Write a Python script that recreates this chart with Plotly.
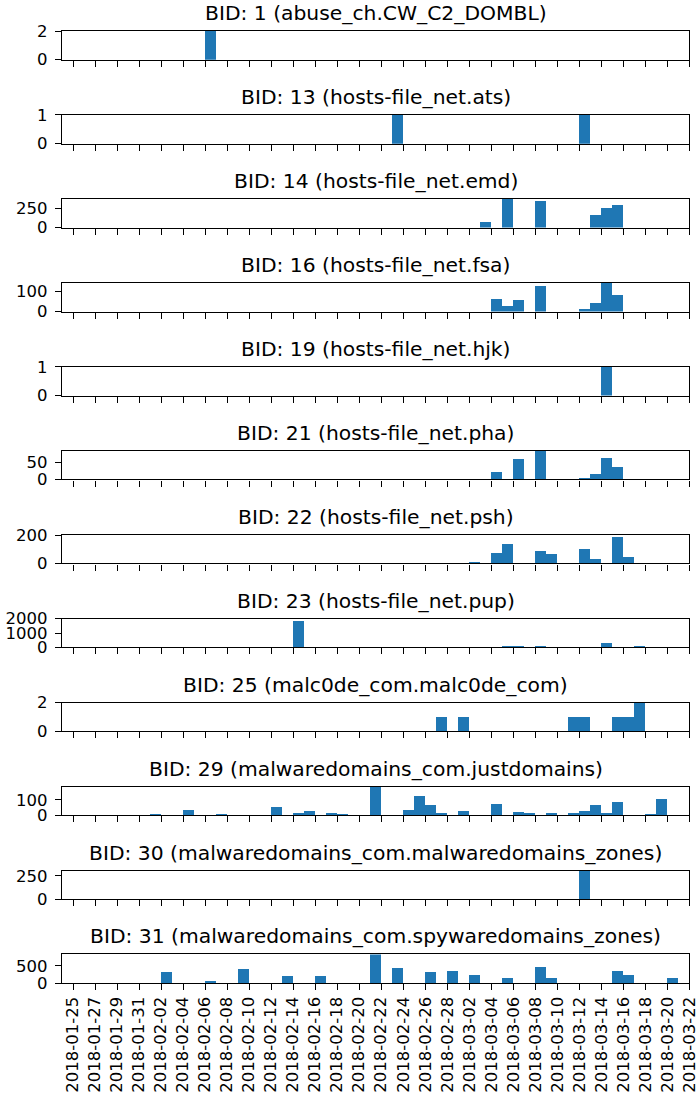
import pandas as pd
import plotly.graph_objects as go
from plotly.subplots import make_subplots

titles = [
    "BID: 1 (abuse_ch.CW_C2_DOMBL)",
    "BID: 13 (hosts-file_net.ats)",
    "BID: 14 (hosts-file_net.emd)",
    "BID: 16 (hosts-file_net.fsa)",
    "BID: 19 (hosts-file_net.hjk)",
    "BID: 21 (hosts-file_net.pha)",
    "BID: 22 (hosts-file_net.psh)",
    "BID: 23 (hosts-file_net.pup)",
    "BID: 25 (malc0de_com.malc0de_com)",
    "BID: 29 (malwaredomains_com.justdomains)",
    "BID: 30 (malwaredomains_com.malwaredomains_zones)",
    "BID: 31 (malwaredomains_com.spywaredomains_zones)",
]

bid1_dates = ["2018-02-06"]
bid1_vals = [2]
bid13_dates = ["2018-02-23", "2018-03-12"]
bid13_vals = [1, 1]
bid14_dates = ["2018-03-03", "2018-03-05", "2018-03-08", "2018-03-13", "2018-03-14", "2018-03-15"]
bid14_vals = [76, 379, 357, 169, 263, 303]
bid16_dates = ["2018-03-04", "2018-03-05", "2018-03-06", "2018-03-08", "2018-03-12", "2018-03-13", "2018-03-14", "2018-03-15"]
bid16_vals = [63, 27, 58, 129, 12, 42, 144, 83]
bid19_dates = ["2018-03-14"]
bid19_vals = [1]
bid21_dates = ["2018-03-04", "2018-03-06", "2018-03-08", "2018-03-12", "2018-03-13", "2018-03-14", "2018-03-15"]
bid21_vals = [24, 60, 83, 6, 18, 63, 36]
bid22_dates = ["2018-03-02", "2018-03-04", "2018-03-05", "2018-03-08", "2018-03-09", "2018-03-12", "2018-03-13", "2018-03-15", "2018-03-16", "2018-03-20"]
bid22_vals = [12, 78, 144, 93, 71, 107, 34, 196, 49, 5]
bid23_dates = ["2018-02-14", "2018-03-05", "2018-03-06", "2018-03-08", "2018-03-14", "2018-03-17"]
bid23_vals = [1880, 70, 70, 141, 353, 141]
bid25_dates = ["2018-02-27", "2018-03-01", "2018-03-11", "2018-03-12", "2018-03-15", "2018-03-16", "2018-03-17"]
bid25_vals = [1, 1, 1, 1, 1, 1, 2]
bid29_dates = ["2018-01-30", "2018-02-01", "2018-02-04", "2018-02-07", "2018-02-12", "2018-02-14", "2018-02-15",
               "2018-02-17", "2018-02-18", "2018-02-21", "2018-02-23", "2018-02-24", "2018-02-25", "2018-02-26",
               "2018-02-27", "2018-03-01", "2018-03-04", "2018-03-05", "2018-03-06", "2018-03-07", "2018-03-09",
               "2018-03-10", "2018-03-11", "2018-03-12", "2018-03-13", "2018-03-14", "2018-03-15", "2018-03-16",
               "2018-03-18", "2018-03-19"]
bid29_vals = [4, 11, 38, 11, 58, 18, 31, 18, 11, 187, 3, 36, 131, 71, 18, 31, 78, 3, 22, 16, 16, 3, 16, 29, 71,
              16, 89, 3, 11, 109]
bid30_dates = ["2018-03-12"]
bid30_vals = [307]
bid31_dates = ["2018-02-02", "2018-02-06", "2018-02-09", "2018-02-13", "2018-02-16", "2018-02-21", "2018-02-23",
               "2018-02-26", "2018-02-28", "2018-03-02", "2018-03-05", "2018-03-08", "2018-03-09", "2018-03-15",
               "2018-03-16", "2018-03-20"]
bid31_vals = [308, 48, 394, 202, 202, 827, 428, 311, 341, 224, 136, 457, 136, 341, 224, 136]

all_dates = [bid1_dates, bid13_dates, bid14_dates, bid16_dates, bid19_dates, bid21_dates, bid22_dates,
             bid23_dates, bid25_dates, bid29_dates, bid30_dates, bid31_dates]
all_vals = [bid1_vals, bid13_vals, bid14_vals, bid16_vals, bid19_vals, bid21_vals, bid22_vals,
            bid23_vals, bid25_vals, bid29_vals, bid30_vals, bid31_vals]

y_tops = [2, 1, 379, 144, 1, 84, 207, 2000, 2, 187, 307, 827]
y_ticks = [[0, 2], [0, 1], [0, 250], [0, 100], [0, 1], [0, 50], [0, 200], [0, 1000, 2000], [0, 2], [0, 100],
           [0, 250], [0, 500]]

x_start = pd.Timestamp("2018-01-24")
x_end = pd.Timestamp("2018-03-22") + pd.Timedelta(minutes=2)
x_tick_dates = pd.date_range("2018-01-25", "2018-03-22", freq="2D")

W, H = 696, 1095
AX_L, AX_R = 62, 689.3
AX_TOP0, AX_H, AX_STEP = 31, 28.7, 83.95
FONT = "DejaVu Sans"
BAR_COLOR = "#1f77b4"

n = len(titles)
fig = make_subplots(rows=n, cols=1)

for i in range(n):
    d = pd.to_datetime(all_dates[i]) + pd.Timedelta(hours=12)
    fig.add_trace(
        go.Bar(x=d, y=all_vals[i], width=86400000, marker=dict(color=BAR_COLOR, line=dict(width=0)),
               showlegend=False, hoverinfo="skip"),
        row=i + 1, col=1,
    )
    top_px = AX_TOP0 + i * AX_STEP
    bot_px = top_px + AX_H
    xa = "xaxis" if i == 0 else f"xaxis{i + 1}"
    ya = "yaxis" if i == 0 else f"yaxis{i + 1}"
    last = i == n - 1
    fig.layout[xa].update(
        domain=[AX_L / W, AX_R / W], type="date", range=[x_start, x_end], automargin=False,
        tickvals=list(x_tick_dates), ticktext=[t.strftime("%Y-%m-%d") for t in x_tick_dates],
        showticklabels=last, tickangle=-90, ticks="outside", ticklen=6, tickwidth=1.2, tickcolor="black",
        ticklabeloverflow="allow",
        showline=True, mirror=True, linecolor="black", linewidth=1.2, showgrid=False, zeroline=False,
        tickfont=dict(family=FONT, size=16.5, color="black"),
    )
    fig.layout[ya].update(
        domain=[1 - bot_px / H, 1 - top_px / H], range=[0, y_tops[i]], automargin=False,
        tickvals=y_ticks[i], ticktext=[str(v) for v in y_ticks[i]],
        ticks="outside", ticklen=6, tickwidth=1.2, tickcolor="black",
        showline=True, mirror=True, linecolor="black", linewidth=1.2, showgrid=False, zeroline=False,
        tickfont=dict(family=FONT, size=16.5, color="black"), ticklabelstandoff=4,
    )
    fig.add_annotation(
        text=titles[i], xref="paper", yref="paper", x=(AX_L + AX_R) / 2 / W, y=1 - top_px / H,
        xanchor="center", yanchor="bottom", yshift=4, showarrow=False,
        font=dict(family=FONT, size=20.3, color="black"),
    )

fig.update_layout(
    width=W, height=H, autosize=False, margin=dict(l=0, r=0, t=0, b=0),
    plot_bgcolor="white", paper_bgcolor="white", bargap=0,
)

fig.write_html("out.html")
